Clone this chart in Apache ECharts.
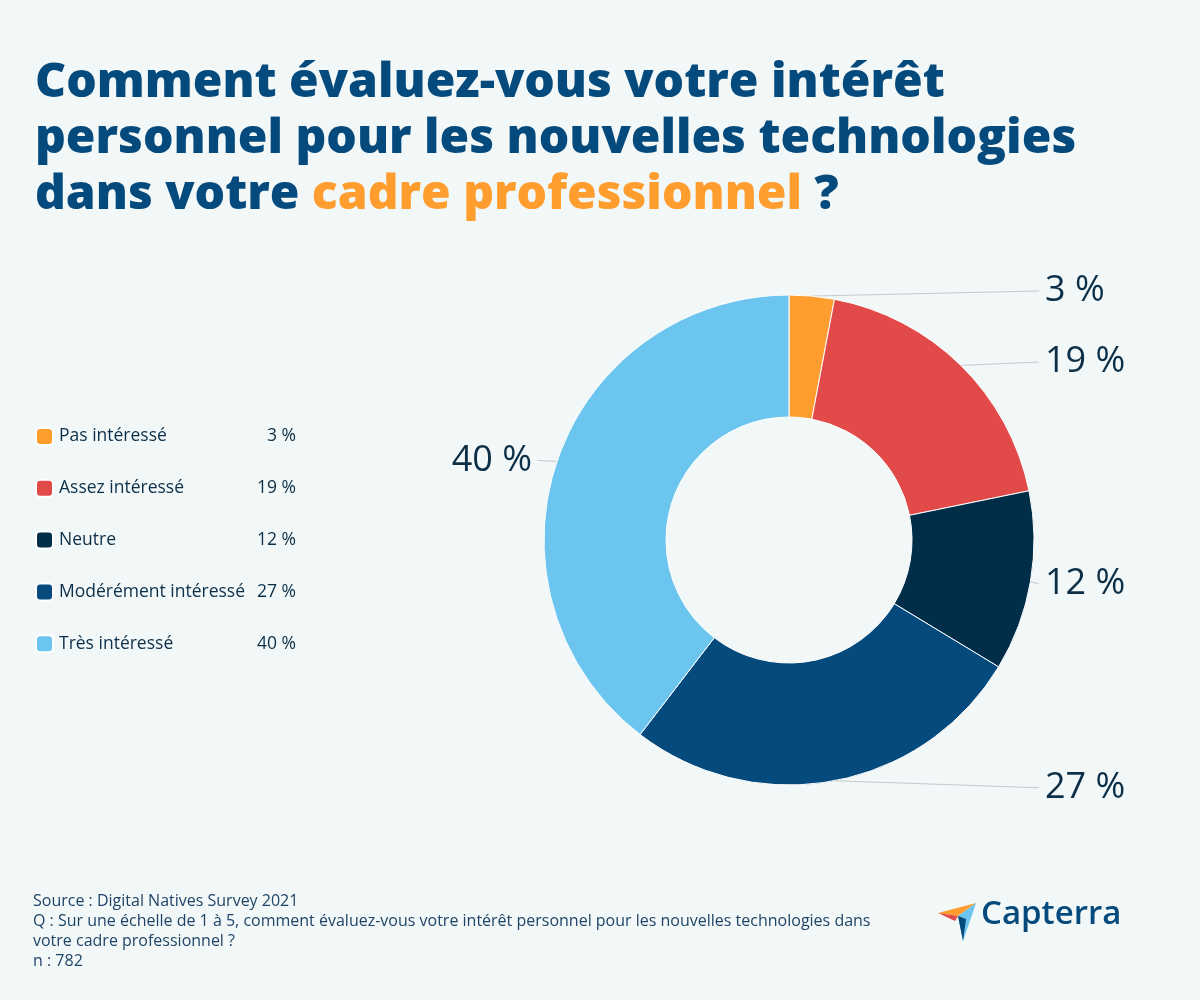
<!DOCTYPE html>
<html><head><meta charset="utf-8">
<script src="https://cdn.jsdelivr.net/npm/echarts@6/dist/echarts.min.js"></script>
<style>html,body{margin:0;padding:0;background:#f2f7f8}#c{width:1200px;height:1000px}</style>
</head><body><div id="c"></div>
<script>
const categories = ['Pas intéressé', 'Assez intéressé', 'Neutre', 'Modérément intéressé', 'Très intéressé'];
const values = [3, 19, 12, 27, 40];
const colors = ['#ff9d2e', '#e24a4a', '#002d47', '#054a7c', '#6cc5ee'];
const titleLines = ['Comment évaluez-vous votre intérêt', 'personnel pour les nouvelles technologies', 'dans votre '];
const titleHighlight = 'cadre professionnel';
const footerLines = ['Source : Digital Natives Survey 2021',
  'Q : Sur une échelle de 1 à 5, comment évaluez-vous votre intérêt personnel pour les nouvelles technologies dans',
  'votre cadre professionnel ?', 'n : 782'];

const chart = echarts.init(document.getElementById('c'));
const CX = 789, CY = 540, R = 245, RI = 123;
const textColor = '#0c2f48';

chart.setOption({
  backgroundColor: '#f2f7f8',
  color: colors,
  title: [{
    left: 30, top: 50,
    text: '{a|' + titleLines[0] + '}\n{a|' + titleLines[1] + '}\n{a|' + titleLines[2] + '}{b|' + titleHighlight + '}{a| ?}',
    textStyle: {
      rich: {
        a: { fontFamily: 'Open Sans', fontWeight: 800, fontSize: 48, lineHeight: 56, color: '#054a7c' },
        b: { fontFamily: 'Open Sans', fontWeight: 800, fontSize: 48, lineHeight: 56, color: '#ff9d2e' }
      }
    }
  }, {
    left: 28, top: 887,
    text: footerLines.join('\n'),
    textStyle: { fontFamily: 'Open Sans', fontWeight: 400, fontSize: 16, lineHeight: 19.7, color: '#1f4566' }
  }],
  legend: {
    orient: 'vertical', left: 35, top: 427, padding: 0,
    itemWidth: 17, itemHeight: 17, itemGap: 32.8,
    icon: 'roundRect',
    data: categories,
    formatter: name => '{n|' + name + '}{v|' + values[categories.indexOf(name)] + ' %}',
    textStyle: {
      padding: [0, 0, 0, 1],
      rich: {
        n: { fontFamily: 'Open Sans', fontSize: 17.5, lineHeight: 17, color: textColor, width: 190 },
        v: { fontFamily: 'Open Sans', fontSize: 17.5, lineHeight: 17, color: textColor, width: 47, align: 'right' }
      }
    }
  },
  series: [{
    type: 'pie',
    center: [CX, CY],
    radius: [RI, R],
    startAngle: 90,
    clockwise: true,
    avoidLabelOverlap: false,
    itemStyle: { borderColor: '#ffffff', borderWidth: 1 },
    data: categories.map((c, i) => ({ name: c, value: values[i] })),
    label: {
      show: true,
      formatter: p => p.value + ' %',
      fontFamily: 'Open Sans', fontSize: 36, color: textColor
    },
    labelLine: { show: true, length: 5, length2: 5, lineStyle: { color: '#c4c9cc', width: 1 } },
    labelLayout: p => {
      const s = p.labelLinePoints[0];
      const right = s[0] >= CX;
      const x = right ? CX + R + 11 : CX - R - 12;
      const y = CY + (s[1] - CY) * 1.025 + 1;
      const end = [right ? x - 6 : x + 6, y];
      return { x: x, y: y, align: right ? 'left' : 'right', verticalAlign: 'middle', labelLinePoints: [s, end, end] };
    },
    emphasis: { disabled: true }
  }],
  graphic: [
    { type: 'polygon', shape: { points: [[938, 913], [976, 903], [958, 916]] }, style: { fill: '#ff9d2e' } },
    { type: 'polygon', shape: { points: [[938, 913], [958, 916], [955, 921]] }, style: { fill: '#e24a4a' } },
    { type: 'polygon', shape: { points: [[976, 903], [958, 916], [963, 941]] }, style: { fill: '#6cc5ee' } },
    { type: 'polygon', shape: { points: [[958, 916], [963, 941], [966, 919]] }, style: { fill: '#054a7c' } },
    { type: 'text', left: 981, top: 898, style: { text: 'Capterra', fontFamily: 'Open Sans', fontWeight: 600, fontSize: 33, fill: '#054a7c' } }
  ]
});
</script></body></html>
